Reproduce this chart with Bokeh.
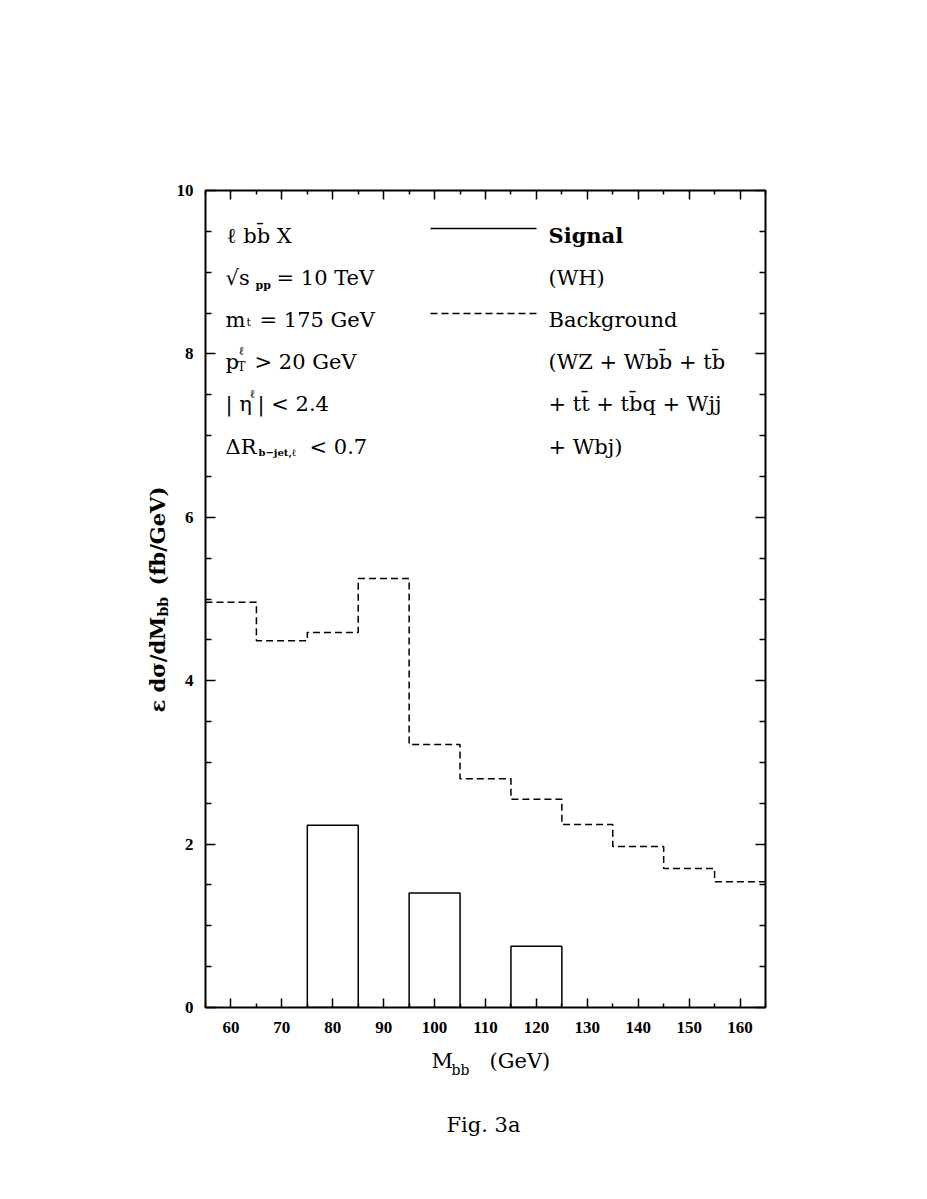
import math
from bokeh.plotting import figure
from bokeh.models import Range1d, LinearAxis, FixedTicker, Label
from bokeh.layouts import row, column
from bokeh.embed import file_html
from bokeh.resources import INLINE

# ---------------- data ----------------
bin_edges = [55, 65, 75, 85, 95, 105, 115, 125, 135, 145, 155, 165]
background = [4.96, 4.49, 4.59, 5.25, 3.22, 2.80, 2.55, 2.24, 1.97, 1.70, 1.54]
signal = [0.0, 0.0, 2.23, 0.0, 1.40, 0.0, 0.75, 0.0, 0.0, 0.0, 0.0]
x_ticks = [60, 70, 80, 90, 100, 110, 120, 130, 140, 150, 160]
x_minor = [55, 65, 75, 85, 95, 105, 115, 125, 135, 145, 155, 165]
y_ticks = [0, 2, 4, 6, 8, 10]
y_minor = [0.5, 1, 1.5, 2.5, 3, 3.5, 4.5, 5, 5.5, 6.5, 7, 7.5, 8.5, 9, 9.5]

# ---------------- layout (page pixels) ----------------
W, H = 911, 1183
LW = 170          # width of the strip holding the y-axis title
MH = 1045         # height of the main plot block
FL, FR, FT, FB = 205, 765, 190, 1007  # frame edges on page
XMIN, XMAX, YMIN, YMAX = 55, 165, 0, 10

SERIF = "DejaVu Serif"
TICKF = "Liberation Serif"


def dx(px):
    return XMIN + (px - FL) / (FR - FL) * (XMAX - XMIN)


def dy(py):
    return YMIN + (FB - py) / (FB - FT) * (YMAX - YMIN)


def blank(w, h):
    f = figure(width=w, height=h, output_backend="svg", toolbar_location=None,
               x_range=Range1d(0, w), y_range=Range1d(h, 0),
               x_axis_location=None, y_axis_location=None,
               min_border=0, min_border_left=0, min_border_right=0,
               min_border_top=0, min_border_bottom=0, frame_align=False)
    f.grid.visible = False
    f.outline_line_color = None
    f.background_fill_color = "white"
    f.border_fill_color = "white"
    return f


p = figure(width=W - LW, height=MH, output_backend="svg", toolbar_location=None,
           x_range=Range1d(XMIN, XMAX), y_range=Range1d(YMIN, YMAX),
           x_axis_location=None, y_axis_location=None,
           min_border_left=FL - LW, min_border_right=W - FR,
           min_border_top=FT, min_border_bottom=MH - FB, frame_align=False)
p.grid.visible = False
p.background_fill_color = "white"
p.border_fill_color = "white"
p.outline_line_color = "black"
p.outline_line_width = 2


def make_axis(kind, side, labels):
    if kind == "x":
        ticker = FixedTicker(ticks=x_ticks, minor_ticks=x_minor)
        maj_in, min_in = 9, 4
    else:
        ticker = FixedTicker(ticks=y_ticks, minor_ticks=y_minor)
        maj_in, min_in = 10, 6
    ax = LinearAxis(ticker=ticker)
    ax.axis_line_color = None
    ax.major_tick_in = maj_in
    ax.major_tick_out = 0
    ax.minor_tick_in = min_in
    ax.minor_tick_out = 0
    ax.major_tick_line_color = "black"
    ax.minor_tick_line_color = "black"
    ax.major_tick_line_width = 1.5
    ax.minor_tick_line_width = 1.5
    ax.major_label_text_font = TICKF
    ax.major_label_text_font_style = "bold"
    ax.major_label_text_font_size = "17px"
    ax.major_label_text_color = "black"
    if not labels:
        ticks = x_ticks if kind == "x" else y_ticks
        ax.major_label_overrides = {t: "" for t in ticks}
        ax.major_label_standoff = 0
    else:
        ax.major_label_standoff = 14 if kind == "x" else 12
    p.add_layout(ax, side)


make_axis("x", "below", True)
make_axis("x", "above", False)
make_axis("y", "left", True)
make_axis("y", "right", False)

# ---------------- marks ----------------
step_y = background + [background[-1]]
p.step(x=bin_edges, y=step_y, mode="after", line_color="black",
       line_width=1.5, line_dash="7 4")

lefts = [bin_edges[i] for i, s in enumerate(signal) if s > 0]
rights = [bin_edges[i + 1] for i, s in enumerate(signal) if s > 0]
tops = [s for s in signal if s > 0]
p.quad(left=lefts, right=rights, bottom=0, top=tops, fill_color=None,
       line_color="black", line_width=1.5)

# legend lines
p.line(x=[dx(430), dx(536)], y=[dy(228), dy(228)], line_color="black", line_width=1.5)
p.line(x=[dx(430), dx(536)], y=[dy(313), dy(313)], line_color="black",
       line_width=1.5, line_dash="7 4")


def txt(fig, s, x, y, size=21, style="normal", angle=0.0, font=SERIF, align="left"):
    fig.add_layout(Label(x=x, y=y, text=s, text_font=font,
                         text_font_size=f"{size}px", text_font_style=style,
                         text_color="black", text_baseline="alphabetic",
                         text_align=align, angle=angle))


def ptxt(s, px, py, **kw):
    txt(p, s, dx(px), dy(py), **kw)


B = [235, 277, 319, 361, 403, 446]
LX = 225
# left column
ptxt("\u2113 bb\u0304 X", LX + 1, B[0])
ptxt("\u221as", LX, B[1])
ptxt("pp", 255, B[1] + 8, size=11, style="bold")
ptxt("= 10 TeV", 276, B[1])
ptxt("m", LX, B[2])
ptxt("t", 246, B[2] + 3, size=11)
ptxt("= 175 GeV", 259, B[2])
ptxt("p", LX, B[3])
ptxt("\u2113", 238, B[3] - 11, size=12)
ptxt("T", 237, B[3] + 5, size=12)
ptxt("> 20 GeV", 254, B[3])
ptxt("| \u03b7", LX, B[4])
ptxt("\u2113", 249, B[4] - 10, size=12)
ptxt("| < 2.4", 257, B[4])
ptxt("\u0394R", LX, B[5])
ptxt("b\u2212jet,\u2113", 258, B[5] + 6, size=10, style="bold")
ptxt("< 0.7", 309, B[5])

# right column
RX = 548
ptxt("Signal", RX, B[0], style="bold")
ptxt("(WH)", RX, B[1])
ptxt("Background", RX, B[2])
ptxt("(WZ + Wbb\u0304 + tb\u0304", RX, B[3])
ptxt("+ tt\u0304 + tb\u0304q + Wjj", RX, B[4])
ptxt("+ Wbj)", RX, B[5])

# ---------------- y-axis title strip ----------------
yl = blank(LW, MH)
A = math.pi / 2
txt(yl, "\u03b5 d\u03c3/dM", 157, 712, size=21, style="bold", angle=A)
txt(yl, "bb", 162, 616, size=14, style="bold", angle=A)
txt(yl, "(fb/GeV)", 157, 585, size=21, style="bold", angle=A)

# ---------------- bottom strip: x-axis title and caption ----------------
bt = blank(W, H - MH)
txt(bt, "M", 431, 1060 - MH)
txt(bt, "bb", 451, 1069 - MH, size=14)
txt(bt, "(GeV)", 489, 1060 - MH)
txt(bt, "Fig. 3a", 446, 1124 - MH)

layout = column(row(yl, p, spacing=0), bt, spacing=0)
open("out.html", "w").write(file_html(layout, INLINE))
